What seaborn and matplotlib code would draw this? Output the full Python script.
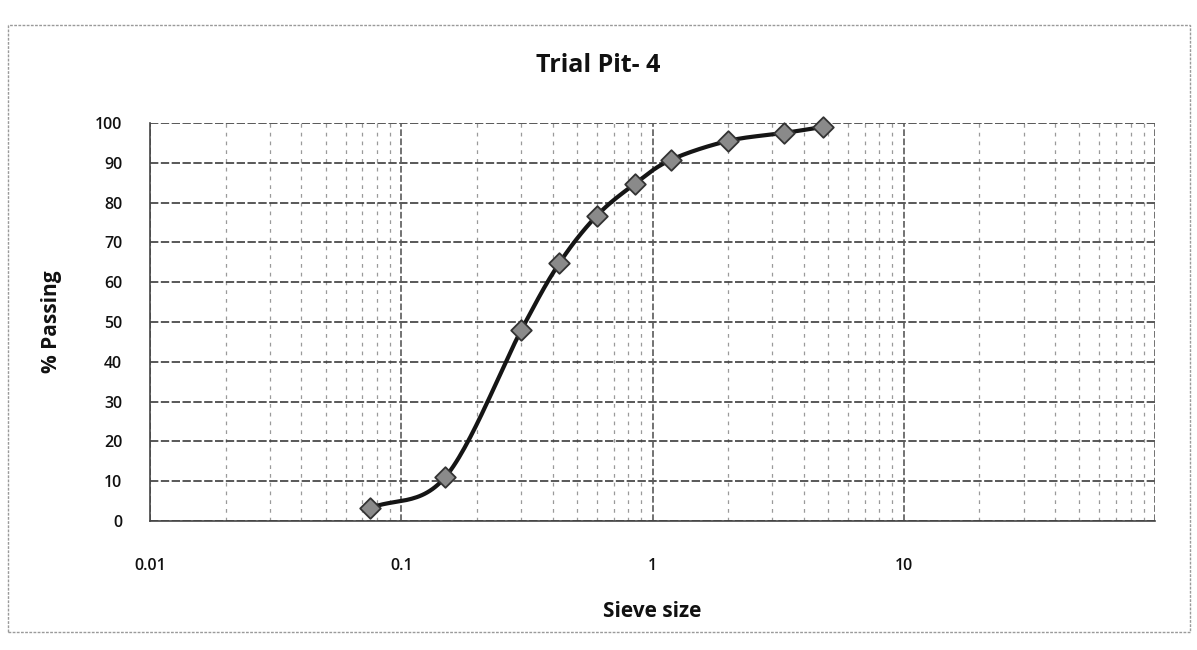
import numpy as np
import matplotlib
matplotlib.use("Agg")
import matplotlib.pyplot as plt
import seaborn as sns
import pandas as pd
from matplotlib.ticker import LogLocator, FixedLocator, FixedFormatter
from matplotlib.patches import Rectangle

# ---- data ----
sieve_size = [0.075, 0.15, 0.3, 0.425, 0.6, 0.85, 1.18, 2.0, 3.35, 4.75]
percent_passing = [3.2, 11.1, 47.9, 64.7, 76.7, 84.7, 90.7, 95.5, 97.5, 99.0]
x_tick_values = [0.01, 0.1, 1, 10]
x_tick_labels = ["0.01", "0.1", "1", "10"]
y_tick_values = [0, 10, 20, 30, 40, 50, 60, 70, 80, 90, 100]
title = "Trial Pit- 4"
x_label = "Sieve size"
y_label = "% Passing"

sns.set_theme(style="white")
plt.rcParams["font.family"] = ["Open Sans", "DejaVu Sans"]

fig = plt.figure(figsize=(11.97, 6.5), dpi=100)
ax = fig.add_axes([150/1197, 1-521/650, (1155-150)/1197, (521-123)/650])

df = pd.DataFrame({"size": sieve_size, "passing": percent_passing})

# smoothed line (Excel-style smoothing) via Catmull-Rom in log-x space
lx = np.log10(df["size"].to_numpy())
ly = df["passing"].to_numpy()
P = np.column_stack([lx, ly])
P_ext = np.vstack([2*P[0]-P[1], P, 2*P[-1]-P[-2]])
curve = []
t = np.linspace(0, 1, 30)
for i in range(1, len(P_ext)-2):
    p0, p1, p2, p3 = P_ext[i-1], P_ext[i], P_ext[i+1], P_ext[i+2]
    seg = 0.5*((2*p1) + (-p0+p2)*t[:, None] + (2*p0-5*p1+4*p2-p3)*(t[:, None]**2)
               + (-p0+3*p1-3*p2+p3)*(t[:, None]**3))
    curve.append(seg)
curve = np.vstack(curve)
smooth = pd.DataFrame({"size": 10**curve[:, 0], "passing": curve[:, 1]})

sns.lineplot(data=smooth, x="size", y="passing", ax=ax, color="#151515",
             linewidth=3.0, sort=False, estimator=None, zorder=3)
sc = sns.scatterplot(data=df, x="size", y="passing", ax=ax, marker="D", s=110,
                     color="#8a8a8a", edgecolor="#333333", linewidth=1.3, zorder=4)
for coll in ax.collections:
    coll.set_clip_on(False)
for ln in ax.lines:
    ln.set_clip_on(False)

ax.set_xscale("log")
ax.set_xlim(0.01, 100)
ax.set_ylim(0, 100)

ax.xaxis.set_major_locator(FixedLocator(x_tick_values))
ax.xaxis.set_major_formatter(FixedFormatter(x_tick_labels))
ax.xaxis.set_minor_locator(LogLocator(base=10, subs=np.arange(2, 10)))
ax.yaxis.set_major_locator(FixedLocator(y_tick_values))

# grid
ax.grid(False)
for v in [0.01, 0.1, 1, 10, 100]:
    ax.axvline(v, color="#5a5a5a", linewidth=1.2, linestyle=(0, (4, 1.5)), zorder=1)
ax.grid(True, which="minor", axis="x", color="#9a9a9a", linewidth=0.9,
        linestyle=(0, (3, 4)), zorder=1)
ax.grid(True, which="major", axis="y", color="#3c3c3c", linewidth=1.2,
        linestyle=(0, (5, 1.5)), zorder=1)

for s in ["top", "right"]:
    ax.spines[s].set_visible(False)
ax.spines["left"].set_color("#444444")
ax.spines["left"].set_linewidth(1.2)
ax.spines["bottom"].set_color("#444444")
ax.spines["bottom"].set_linewidth(1.2)

ax.tick_params(axis="x", which="both", length=0, pad=27, labelsize=11.5, labelcolor="#111111")
ax.tick_params(axis="y", which="both", length=0, pad=20, labelsize=11.5, labelcolor="#111111")
for lab in ax.get_xticklabels() + ax.get_yticklabels():
    lab.set_fontweight("semibold")

ax.set_xlabel(x_label, fontsize=15, fontweight="bold", color="#111111")
ax.set_ylabel(y_label, fontsize=15, fontweight="bold", color="#111111")
ax.xaxis.set_label_coords(0.5, -0.2)
ax.yaxis.set_label_coords(-0.088, 0.5)

fig.text(598/1197, 1-65/650, title, ha="center", va="center", fontsize=18,
         fontweight="bold", color="#111111")

# chart-area frame
fig.patches.append(Rectangle((8/1197, 1-632/650), (1190-8)/1197, (632-25)/650,
                             transform=fig.transFigure, fill=False,
                             edgecolor="#9a9a9a", linewidth=1.0, linestyle=(0, (2, 1))))

fig.savefig("out.png", dpi=100)
